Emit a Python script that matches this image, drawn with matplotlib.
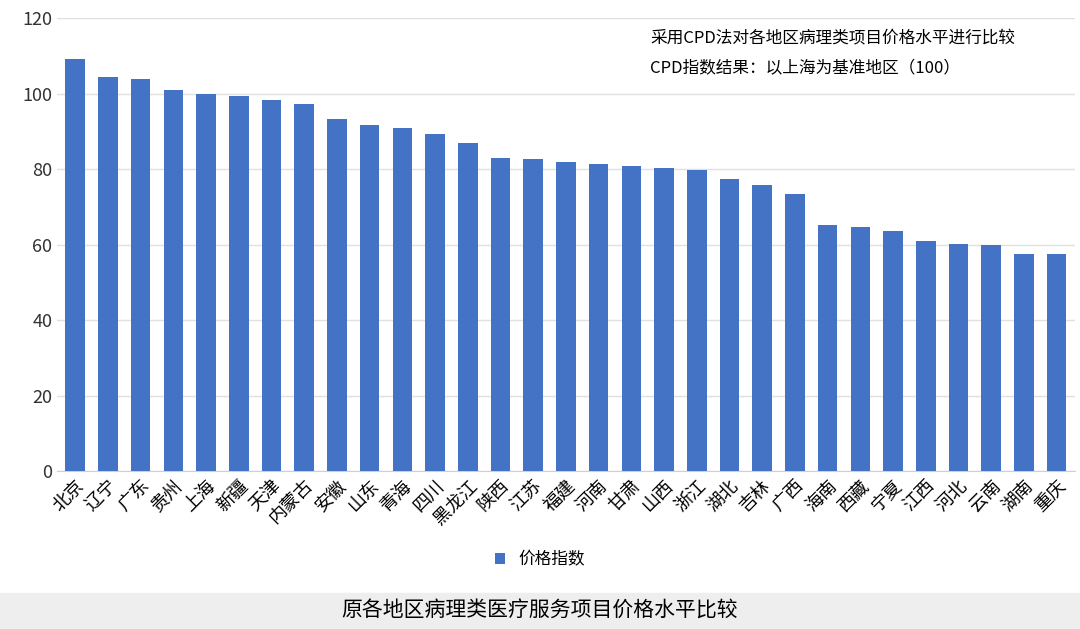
import matplotlib.pyplot as plt
from matplotlib.patches import Rectangle

plt.rcParams['font.family'] = ['Noto Sans CJK SC', 'DejaVu Sans']

regions = ["北京", "辽宁", "广东", "贵州", "上海", "新疆", "天津", "内蒙古", "安徽", "山东",
           "青海", "四川", "黑龙江", "陕西", "江苏", "福建", "河南", "甘肃", "山西", "浙江",
           "湖北", "吉林", "广西", "海南", "西藏", "宁夏", "江西", "河北", "云南", "湖南", "重庆"]
values = [109.1, 104.4, 103.8, 100.9, 100.0, 99.4, 98.3, 97.2, 93.4, 91.8,
          90.8, 89.2, 86.9, 83.1, 82.6, 81.9, 81.3, 80.8, 80.2, 79.7,
          77.4, 75.8, 73.4, 65.2, 64.6, 63.6, 60.9, 60.1, 59.9, 57.5, 57.5]
yticks = [0, 20, 40, 60, 80, 100, 120]

fig = plt.figure(figsize=(10.8, 6.29), dpi=100)
ax = fig.add_axes([0.053, 0.251, 0.942, 0.72])

ax.bar(range(len(regions)), values, width=0.6, color="#4472C4", label="价格指数", zorder=3)
ax.set_xlim(-0.55, len(regions) - 0.45)
ax.set_ylim(0, 120)
ax.set_yticks(yticks)
ax.tick_params(axis="y", labelsize=13, length=0, colors="#333333")
ax.set_xticks(range(len(regions)))
ax.set_xticklabels(regions, rotation=45, ha="right", rotation_mode="anchor", fontsize=13)
ax.tick_params(axis="x", length=0, pad=4)
ax.grid(axis="y", color="#e0e0e0", linewidth=1, zorder=0)
for s in ["top", "right", "left"]:
    ax.spines[s].set_visible(False)
ax.spines["bottom"].set_color("#d0d0d0")

ax.text(0.583, 0.945, "采用CPD法对各地区病理类项目价格水平进行比较", transform=ax.transAxes, fontsize=12)
ax.text(0.583, 0.878, "CPD指数结果：以上海为基准地区（100）", transform=ax.transAxes, fontsize=12)

fig.legend(loc="center", bbox_to_anchor=(0.5, 0.11), frameon=False, fontsize=12,
           handlelength=0.6, handleheight=0.6)

fig.patches.append(Rectangle((0, 0), 1, 0.058, transform=fig.transFigure, color="#eeeeee", zorder=0))
fig.text(0.5, 0.029, "原各地区病理类医疗服务项目价格水平比较", ha="center", va="center", fontsize=15)

fig.savefig("out.png")
